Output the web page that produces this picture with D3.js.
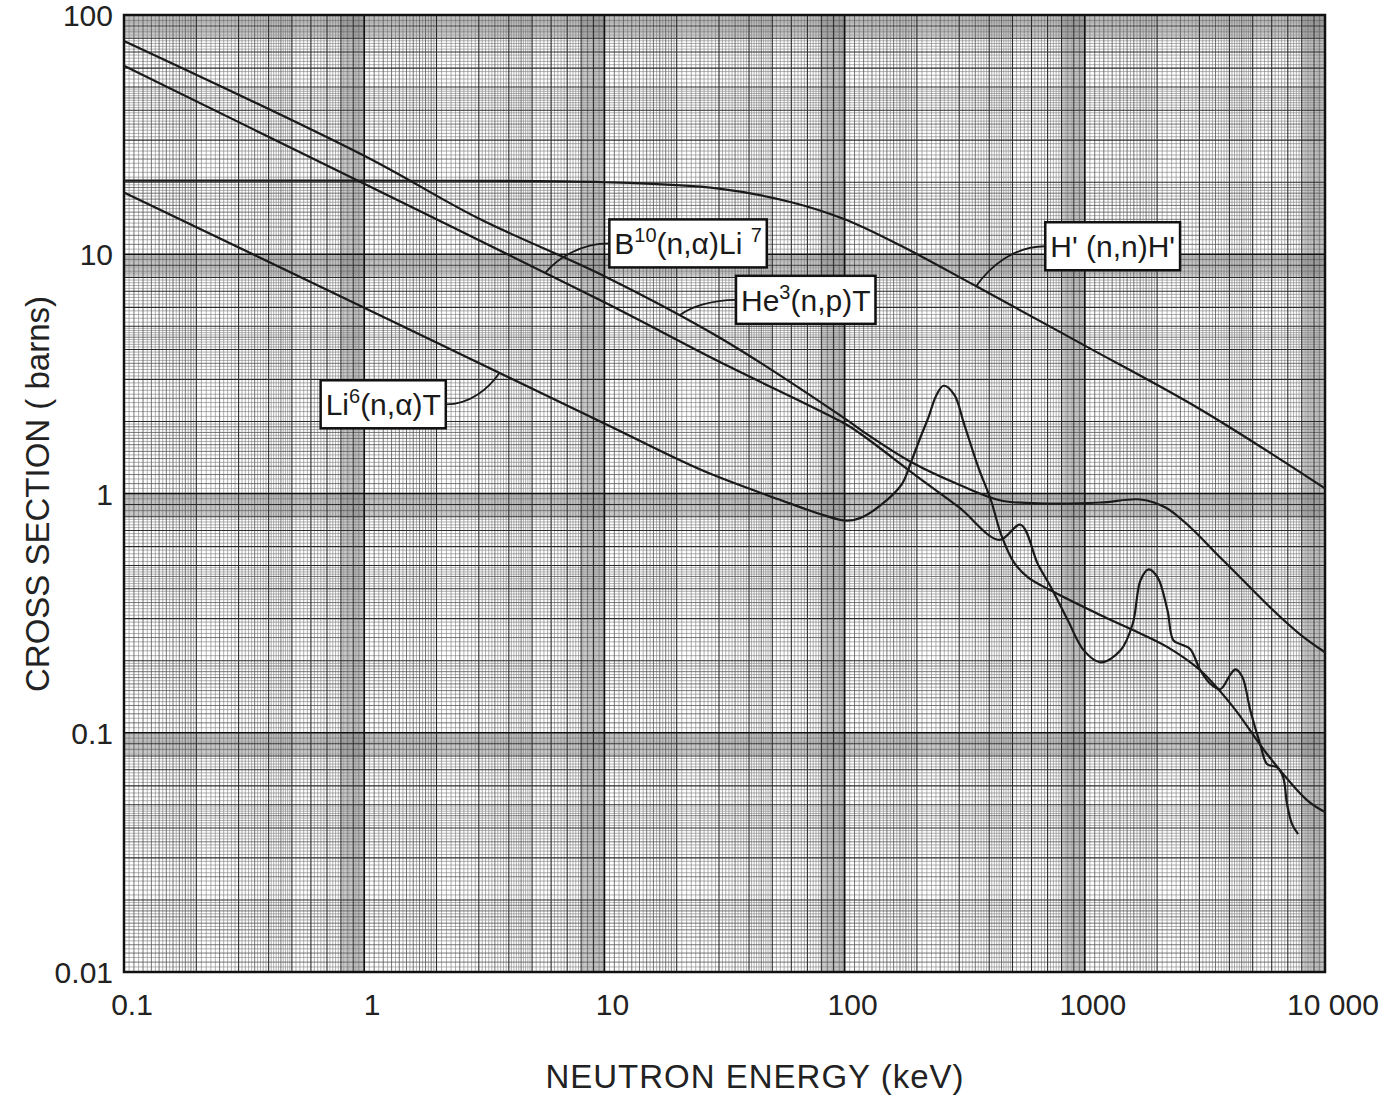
<!DOCTYPE html>
<html><head><meta charset="utf-8">
<script src="https://cdn.jsdelivr.net/npm/d3@7"></script>
<style>body{margin:0;background:#fff}</style>
</head><body>
<svg id="chart" width="1394" height="1096"></svg>
<script>
// ---------- data ----------
const xTickValues = [0.1, 1, 10, 100, 1000, 10000];
const xTickLabels = ["0.1", "1", "10", "100", "1000", "10 000"];
const yTickValues = [0.01, 0.1, 1, 10, 100];
const yTickLabels = ["0.01", "0.1", "1", "10", "100"];

// He3(n,p)T  (keV, barns)
const he3Energy = [0.1, 1, 3, 10, 30, 100, 118, 190, 305, 448, 702, 1164, 1706, 2168, 2756, 3556, 4036, 5916, 7870, 10000];
const he3Sigma  = [77.9, 25.8, 14.1, 8.1, 4.5, 2.06, 1.83, 1.35, 1.08, 0.935, 0.908, 0.917, 0.944, 0.874, 0.721, 0.556, 0.491, 0.334, 0.258, 0.217];

// B10(n,a)Li7
const b10Energy = [0.1, 1, 10, 30, 100, 118, 200, 300, 440, 540, 638, 723, 850, 990, 1164, 1409, 1581, 1706, 1844, 2010, 2210, 2340, 2575, 2756, 3030, 3334, 3665, 4036, 4236, 4528, 4888, 5373, 5746, 6321, 6695, 6950, 7293, 7727];
const b10Sigma  = [61.3, 19.7, 6.3, 3.56, 1.96, 1.76, 1.18, 0.874, 0.64, 0.74, 0.506, 0.406, 0.295, 0.221, 0.197, 0.221, 0.284, 0.434, 0.482, 0.446, 0.324, 0.243, 0.232, 0.223, 0.182, 0.160, 0.152, 0.175, 0.184, 0.171, 0.124, 0.0895, 0.0738, 0.0717, 0.0652, 0.0503, 0.0415, 0.0377];

// Li6(n,a)T
const li6Energy = [0.1, 1, 10, 25.5, 54.8, 80.3, 102, 117.6, 142.6, 172.6, 189.9, 208.9, 223.4, 240, 258, 286, 315, 360, 407, 448, 507, 580, 723, 1164, 1596, 2210, 3030, 4150, 5746, 8414, 10000];
const li6Sigma  = [18.1, 5.98, 1.96, 1.25, 0.935, 0.817, 0.77, 0.794, 0.90, 1.09, 1.37, 1.76, 2.08, 2.55, 2.82, 2.59, 1.94, 1.29, 0.935, 0.675, 0.515, 0.446, 0.393, 0.310, 0.268, 0.228, 0.182, 0.128, 0.0813, 0.0523, 0.0466];

// H1(n,n)H1
const hEnergy = [0.1, 1, 10, 30, 60, 100, 170, 349, 1000, 3020, 10000];
const hSigma  = [20.3, 20.3, 20.0, 18.8, 16.5, 14.0, 10.9, 7.4, 4.15, 2.25, 1.05];

// labels: box centre (keV, barns), leader target (keV, barns)
const labelNames   = ["B10", "He3", "Li6", "H1"];
const labelCenterE = [22.3, 68.9, 1.20, 1306];
const labelCenterS = [11.1, 6.45, 2.36, 10.8];
const labelTargetE = [5.69, 20.7, 3.66, 353];
const labelTargetS = [8.4, 5.59, 3.20, 7.35];

// ---------- drawing ----------
const svg = d3.select("#chart");
const L = 124, R = 1325, T = 15, B = 972;
const x = d3.scaleLog().domain([0.1, 10000]).range([L, R]);
const y = d3.scaleLog().domain([0.01, 100]).range([B, T]);
const FONT = "'Liberation Sans', Arial, sans-serif";

// graph-paper grid
function gridValues(lo, hi) {
  const out = [];
  for (let b = lo; b < hi * 0.999; b *= 10) {
    const steps = [];
    for (let m = 1; m < 2 - 1e-9; m += 0.05) steps.push(m);
    for (let m = 2; m < 5 - 1e-9; m += 0.1) steps.push(m);
    for (let m = 5; m < 8 - 1e-9; m += 0.2) steps.push(m);
    for (let m = 8; m < 10 - 1e-9; m += 0.1) steps.push(m);
    steps.forEach(m => {
      const mr = Math.round(m * 100) / 100;
      let kind = "minor";
      if (Math.abs(mr - 1) < 1e-6) kind = "decade";
      else if (Math.abs(mr - Math.round(mr)) < 1e-6) kind = "int";
      else if (mr < 2 && Math.abs(mr * 10 - Math.round(mr * 10)) < 1e-6) kind = "tenth";
      else if (mr >= 2 && Math.abs(mr * 2 - Math.round(mr * 2)) < 1e-6) kind = "tenth";
      out.push({v: b * mr, kind});
    });
  }
  out.push({v: hi, kind: "decade"});
  return out;
}
const style = {
  minor:  {c: "#7a7a7a", w: 0.6},
  tenth:  {c: "#555",    w: 0.8},
  int:    {c: "#2a2a2a", w: 1.1},
  decade: {c: "#111",    w: 1.7}
};
const grid = svg.append("g");
["minor", "tenth", "int", "decade"].forEach(k => {
  gridValues(0.1, 10000).filter(d => d.kind === k).forEach(d => {
    const px = x(d.v);
    grid.append("line").attr("x1", px).attr("x2", px).attr("y1", T).attr("y2", B)
      .attr("stroke", style[k].c).attr("stroke-width", style[k].w);
  });
  gridValues(0.01, 100).filter(d => d.kind === k).forEach(d => {
    const py = y(d.v);
    grid.append("line").attr("x1", L).attr("x2", R).attr("y1", py).attr("y2", py)
      .attr("stroke", style[k].c).attr("stroke-width", style[k].w);
  });
});

// frame
svg.append("rect").attr("x", L).attr("y", T).attr("width", R - L).attr("height", B - T)
  .attr("fill", "none").attr("stroke", "#111").attr("stroke-width", 2.5);

// curves
const line = d3.line().x(d => x(d[0])).y(d => y(d[1])).curve(d3.curveCatmullRom.alpha(0.5));
const series = [
  d3.zip(he3Energy, he3Sigma),
  d3.zip(b10Energy, b10Sigma),
  d3.zip(li6Energy, li6Sigma),
  d3.zip(hEnergy, hSigma)
];
svg.append("g").selectAll("path").data(series).join("path")
  .attr("d", line).attr("fill", "none").attr("stroke", "#1a1a1a").attr("stroke-width", 2.2)
  .attr("stroke-linejoin", "round");

// tick labels
svg.append("g").selectAll("text").data(xTickValues).join("text")
  .attr("x", d => x(d) + 8).attr("y", 1015).attr("text-anchor", "middle")
  .attr("font-family", FONT).attr("font-size", 30).attr("fill", "#222")
  .text((d, i) => xTickLabels[i]);
svg.append("g").selectAll("text").data(yTickValues).join("text")
  .attr("x", 113).attr("y", d => y(d) + 11).attr("text-anchor", "end")
  .attr("font-family", FONT).attr("font-size", 30).attr("fill", "#222")
  .text((d, i) => yTickLabels[i]);

// axis titles
svg.append("text").attr("x", 755).attr("y", 1088).attr("text-anchor", "middle")
  .attr("font-family", FONT).attr("font-size", 33).attr("fill", "#222")
  .attr("letter-spacing", 1).text("NEUTRON ENERGY (keV)");
svg.append("text").attr("transform", "translate(49,494) rotate(-90)").attr("text-anchor", "middle")
  .attr("font-family", FONT).attr("font-size", 33).attr("fill", "#222")
  .text("CROSS SECTION ( barns)");

// label boxes with leaders
const labelParts = {
  B10: [["B", 0], ["10", 1], ["(n,α)Li ", 0], ["7", 1]],
  He3: [["He", 0], ["3", 1], ["(n,p)T", 0]],
  Li6: [["Li", 0], ["6", 1], ["(n,α)T", 0]],
  H1:  [["H' (n,n)H'", 0]]
};
labelNames.forEach((name, i) => {
  const cx = x(labelCenterE[i]), cy = y(labelCenterS[i]);
  const tx = x(labelTargetE[i]), ty = y(labelTargetS[i]);
  const g = svg.append("g");
  const rect = g.append("rect");
  const t = g.append("text").attr("font-family", FONT).attr("font-size", 30).attr("fill", "#1a1a1a")
    .attr("x", cx).attr("y", cy + 11).attr("text-anchor", "middle");
  let prevSup = 0;
  labelParts[name].forEach(([s, sup]) => {
    const ts = t.append("tspan").text(s);
    if (sup) ts.attr("font-size", 20).attr("dy", -12);
    else if (prevSup) ts.attr("dy", 12);
    prevSup = sup;
  });
  const bb = t.node().getBBox();
  const padX = 5;
  const bx = bb.x - padX, by = cy - 24, bw = bb.width + 2 * padX, bh = 48;
  rect.attr("x", bx).attr("y", by).attr("width", bw).attr("height", bh)
    .attr("fill", "#fff").attr("stroke", "#111").attr("stroke-width", 2.5);
  const sx = tx < bx ? bx : bx + bw;
  const sy = cy;
  const path = d3.path();
  path.moveTo(sx, sy);
  path.bezierCurveTo(sx + (tx - sx) * 0.45, sy, tx + (sx - tx) * 0.2, ty + (sy - ty) * 0.5, tx, ty);
  svg.append("path").attr("d", path.toString()).attr("fill", "none")
    .attr("stroke", "#1a1a1a").attr("stroke-width", 1.8);
});
</script>
</body></html>
